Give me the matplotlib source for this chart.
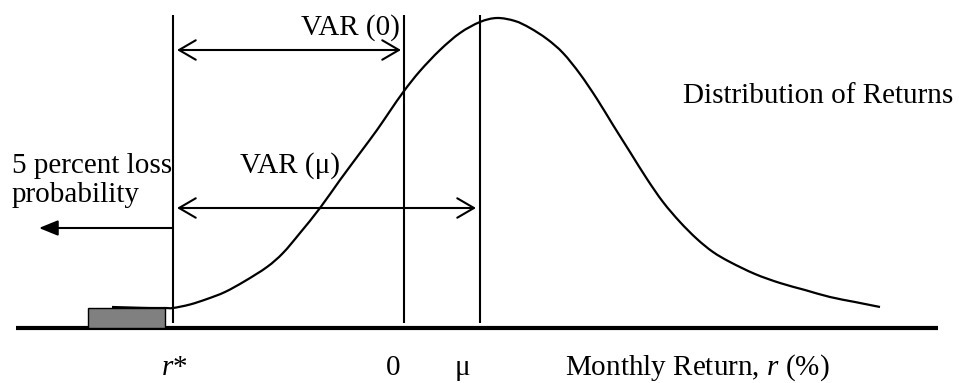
import numpy as np
import matplotlib.pyplot as plt
from matplotlib.path import Path
from matplotlib.patches import PathPatch

plt.rcParams['font.family'] = ['Liberation Serif', 'DejaVu Serif']
plt.rcParams['mathtext.fontset'] = 'custom'
plt.rcParams['mathtext.rm'] = 'Liberation Serif'
plt.rcParams['mathtext.it'] = 'Liberation Serif:italic'

# return axis positions (drawing units) and the curve height above the baseline
curve_x = [112, 130, 150, 165, 173, 190, 207, 225, 245, 267, 283, 300, 320, 340,
           360, 377, 390, 404, 420, 440, 460, 480, 497, 515, 530, 547, 563, 580,
           597, 613, 630, 647, 663, 680, 697, 713, 730, 755, 780, 805, 830, 855, 880]
curve_h = [21, 20.5, 20, 20, 20, 23.5, 29, 36, 47, 61, 75, 95, 120, 148,
           175, 198, 217, 237, 257, 278, 295, 306, 310, 307, 300, 289, 275, 254,
           229, 203, 176, 149, 126, 106, 89, 76, 66, 54, 45, 38, 31, 26, 21]

r_star = 173
zero = 404
mu = 480
tick_labels = [r'$r$*', '0', 'μ']
tick_pos = [174, 393, 462]
loss_box = (88, 77, 20)   # left, width, height

fig = plt.figure(figsize=(9.59, 3.83), dpi=100)
ax = fig.add_axes([0, 0, 1, 1])
ax.set_xlim(0, 959)
ax.set_ylim(-55, 328)
ax.axis('off')

fs = 21

# loss tail box
ax.bar(loss_box[0], loss_box[2], width=loss_box[1], bottom=0, align='edge',
       color='#808080', edgecolor='black', linewidth=1, zorder=3)

# distribution curve, drawn as a smooth bezier through the read points
pts = np.column_stack([curve_x, curve_h]).astype(float)
verts = [pts[0]]
codes = [Path.MOVETO]
for i in range(len(pts) - 1):
    p0 = pts[i - 1] if i > 0 else pts[i]
    p1, p2 = pts[i], pts[i + 1]
    p3 = pts[i + 2] if i + 2 < len(pts) else pts[i + 1]
    verts += [p1 + (p2 - p0) / 6, p2 - (p3 - p1) / 6, p2]
    codes += [Path.CURVE4] * 3
ax.add_patch(PathPatch(Path(verts, codes), facecolor='none', edgecolor='black',
                       lw=1.6, zorder=2))

# vertical markers
ax.vlines([r_star, zero, mu], 5, 313, color='black', lw=1.5)

# baseline
ax.hlines(0, 16, 938, color='black', lw=3)

# VAR arrows
ax.annotate('', xy=(zero - 3, 278), xytext=(r_star + 4, 278),
            arrowprops=dict(arrowstyle='<->,head_length=1.2,head_width=0.7',
                            color='black', lw=1.5, shrinkA=0, shrinkB=0))
ax.annotate('', xy=(mu - 4, 120), xytext=(r_star + 4, 120),
            arrowprops=dict(arrowstyle='<->,head_length=1.2,head_width=0.7',
                            color='black', lw=1.5, shrinkA=0, shrinkB=0))
ax.annotate('', xy=(39, 100), xytext=(r_star, 100),
            arrowprops=dict(arrowstyle='-|>,head_length=1.15,head_width=0.47',
                            color='black', lw=1.5, shrinkA=0, shrinkB=0))

# labels
ax.text(400, 293, 'VAR (0)', ha='right', va='baseline', fontsize=fs)
ax.text(240, 155, 'VAR (μ)', ha='left', va='baseline', fontsize=fs)
ax.text(12, 155, '5 percent loss', ha='left', va='baseline', fontsize=fs)
ax.text(12, 126, 'probability', ha='left', va='baseline', fontsize=fs)
ax.text(683, 225, 'Distribution of Returns', ha='left', va='baseline', fontsize=fs)

for lab, xp in zip(tick_labels, tick_pos):
    ax.text(xp, -47, lab, ha='center', va='baseline', fontsize=fs)
ax.text(565, -47, r'Monthly Return, $r$ (%)', ha='left', va='baseline', fontsize=fs)

plt.savefig('out.png', dpi=100)
